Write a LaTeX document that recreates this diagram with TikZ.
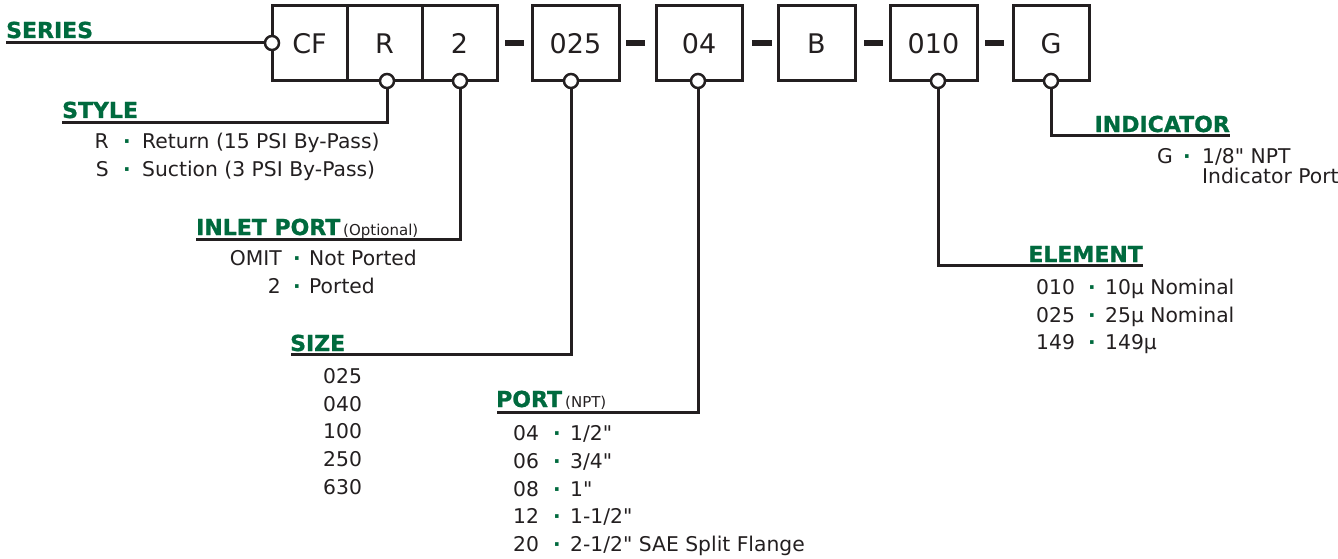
\documentclass[tikz,border=0pt]{standalone}
\usepackage{fontspec}
\setmainfont{DejaVu Sans}[Ligatures=TeXOff]
\newfontfamily\headfont{DejaVu Sans Bold}[FakeBold=1]
\definecolor{hgreen}{RGB}{0,106,62}
\definecolor{ink}{RGB}{35,31,32}
\newcommand\optrow[8]{%
  \node[entry,anchor=base #3] (#1c) at (#2,#6) {#7};
  \node[dotmark,anchor=base] (#1d) at (#4,#6) {·};
  \node[entry,anchor=base west] (#1v) at (#5,#6) {#8};}
\begin{document}
\begin{tikzpicture}[x=1pt,y=-1pt,
  box/.style={draw=ink, line width=3pt, minimum height=75pt, inner sep=0pt,
    font=\fontsize{27}{27}\selectfont, text=ink},
  pin/.style={circle, draw=ink, fill=white, line width=2.5pt, minimum size=14pt, inner sep=0pt},
  lead/.style={draw=ink, line width=3pt},
  bar/.style={fill=ink},
  head/.style={inner sep=0pt, font=\fontsize{22}{22}\headfont, text=hgreen},
  note/.style={inner sep=0pt, font=\fontsize{15}{15}\selectfont, text=ink},
  entry/.style={inner sep=0pt, font=\fontsize{20.3}{20.3}\selectfont, text=ink},
  dotmark/.style={inner sep=0pt, font=\fontsize{20}{20}\selectfont\bfseries, text=hgreen}]
\useasboundingbox (0,0) rectangle (1338,559);
% boxes
\node[box, minimum width=75pt] (bcf) at (309.5,43.5) {CF};
\node[box, minimum width=75pt] (br) at (384.5,43.5) {R};
\node[box, minimum width=75pt] (b2) at (459.5,43.5) {2};
\node[box, minimum width=87pt] (b025) at (575.5,43.5) {025};
\node[box, minimum width=86pt] (b04) at (699,43.5) {04};
\node[box, minimum width=77pt] (bb) at (816.5,43.5) {B};
\node[box, minimum width=87pt] (b010) at (933.5,43.5) {010};
\node[box, minimum width=76pt] (bg) at (1051,43.5) {G};
% dashes
\fill[bar] (505,40) rectangle (524,46);
\fill[bar] (626,40) rectangle (645,46);
\fill[bar] (752,40) rectangle (772,46);
\fill[bar] (864,40) rectangle (883,46);
\fill[bar] (985,40) rectangle (1004,46);
% lead end points
\coordinate (eseries) at (6,43);
\coordinate (estyle) at (62,123);
\coordinate (einlet) at (196,239);
\coordinate (esize) at (291,354);
\coordinate (eport) at (497,412);
\coordinate (eelem) at (1143,265);
\coordinate (eind) at (1230,136);
% pins
\node[pin] (ps) at (272,43) {};
\node[pin] (pr) at (387,81) {};
\node[pin] (p2) at (460,81) {};
\node[pin] (p025) at (571,81) {};
\node[pin] (p04) at (698,81) {};
\node[pin] (p010) at (938,81) {};
\node[pin] (pg) at (1051,81) {};
% leads
\draw[lead] (ps.west) -- (eseries);
\draw[lead] (pr.south) |- (estyle);
\draw[lead] (p2.south) |- (einlet);
\draw[lead] (p025.south) |- (esize);
\draw[lead] (p04.south) |- (eport);
\draw[lead] (p010.south) |- (eelem);
\draw[lead] (pg.south) |- (eind);
% headings
\node[head, anchor=base west] (hseries) at (6,38) {SERIES};
\node[head, anchor=base west] (hstyle) at (62,118) {STYLE};
\node[head, anchor=base west] (hinlet) at (196,235) {INLET PORT};
\node[note, anchor=base west] (ninlet) at (343,235) {(Optional)};
\node[head, anchor=base west] (hsize) at (290,351) {SIZE};
\node[head, anchor=base west] (hport) at (496,407) {PORT};
\node[note, anchor=base west] (nport) at (565,407) {(NPT)};
\node[head, anchor=base east] (helem) at (1143,262) {ELEMENT};
\node[head, anchor=base east] (hind) at (1230,132) {INDICATOR};
% style
\optrow{sa}{109}{east}{127}{142}{148}{R}{Return (15 PSI By-Pass)}
\optrow{sb}{109}{east}{127}{142}{176}{S}{Suction (3 PSI By-Pass)}
% inlet
\optrow{ia}{282}{east}{297}{309}{265}{OMIT}{Not Ported}
\optrow{ib}{281}{east}{297}{309}{293}{2}{Ported}
% size
\node[entry, anchor=base west] (s1) at (323,383) {025};
\node[entry, anchor=base west] (s2) at (323,411) {040};
\node[entry, anchor=base west] (s3) at (323,438) {100};
\node[entry, anchor=base west] (s4) at (323,466) {250};
\node[entry, anchor=base west] (s5) at (323,494) {630};
% port
\optrow{pa}{513}{west}{557}{570}{440}{04}{1/2"}
\optrow{pb}{513}{west}{557}{570}{468}{06}{3/4"}
\optrow{pc}{513}{west}{557}{570}{496}{08}{1"}
\optrow{pd}{513}{west}{557}{570}{523}{12}{1-1/2"}
\optrow{pe}{513}{west}{557}{570}{551}{20}{2-1/2" SAE Split Flange}
% element
\optrow{ea}{1036}{west}{1092}{1105}{294}{010}{10µ Nominal}
\optrow{eb}{1036}{west}{1092}{1105}{322}{025}{25µ Nominal}
\optrow{ec}{1036}{west}{1092}{1105}{349}{149}{149µ}
% indicator
\optrow{ga}{1157}{west}{1187}{1202}{163}{G}{1/8" NPT}
\node[entry, anchor=base west] (gb) at (1202,183) {Indicator Port};
\end{tikzpicture}
\end{document}
